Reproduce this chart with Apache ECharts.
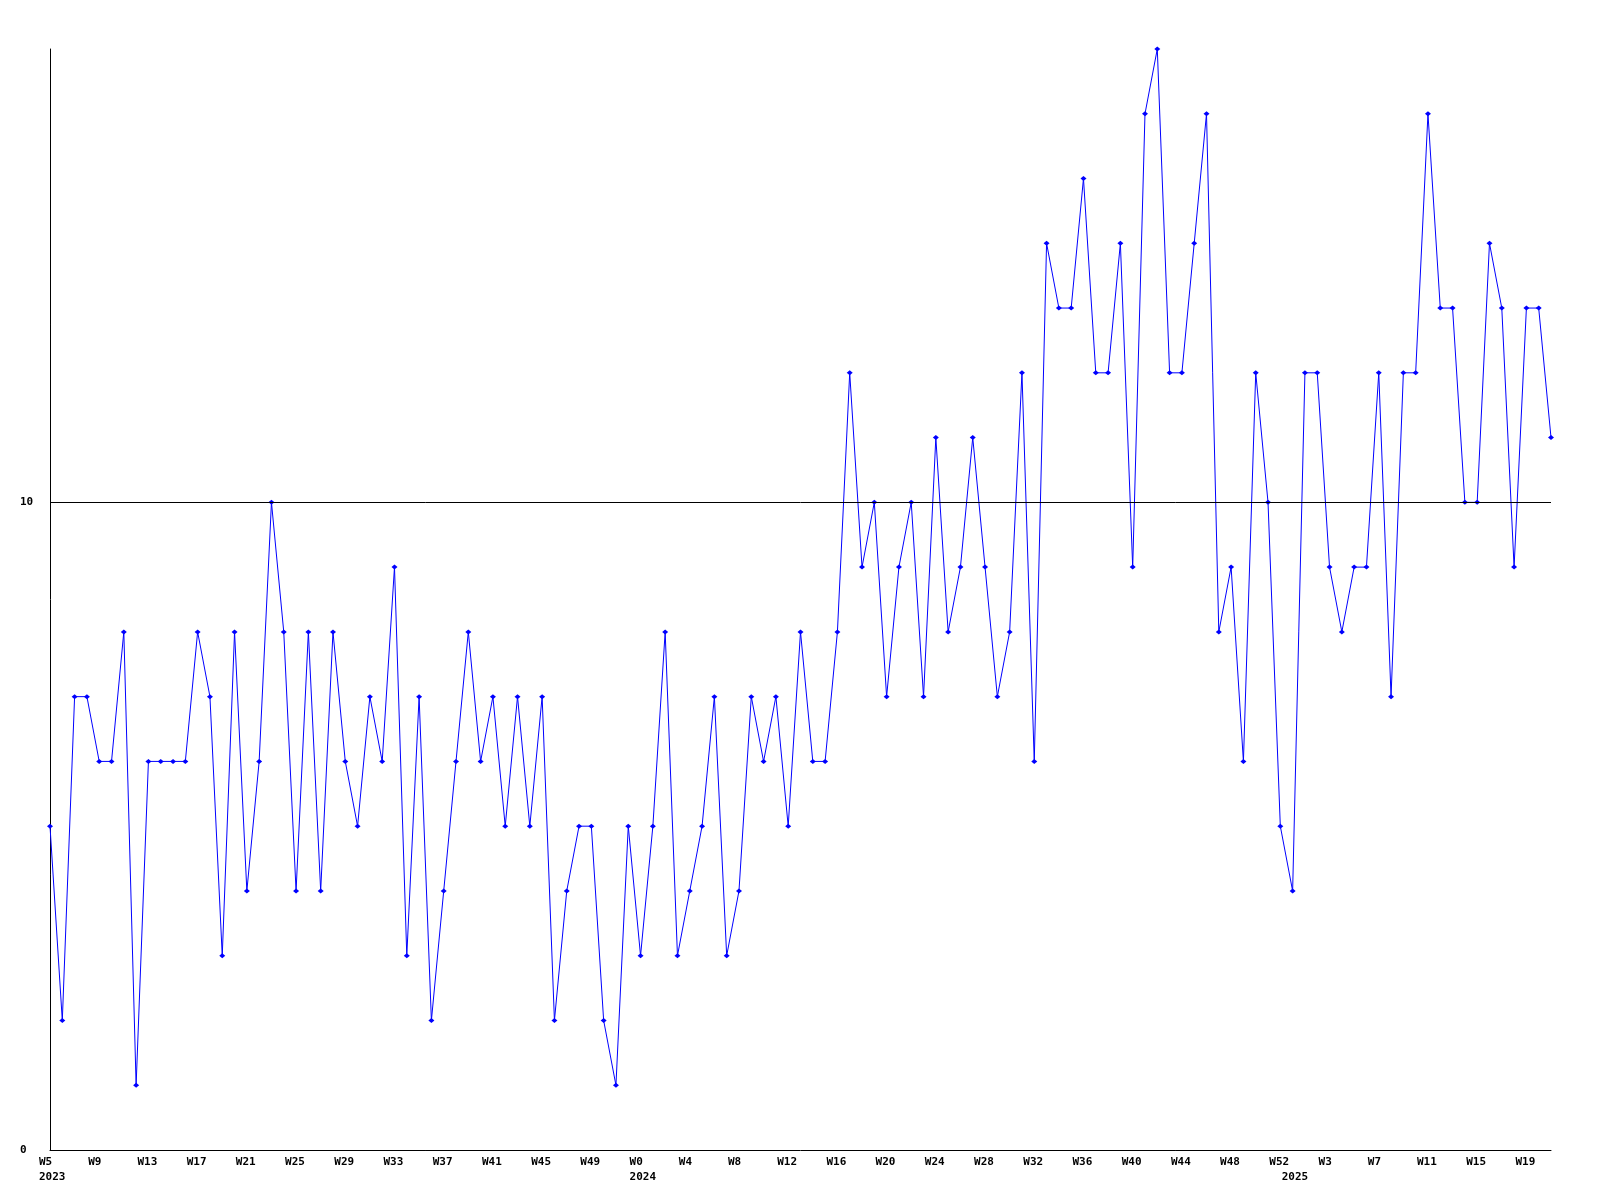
<!DOCTYPE html>
<html>
<head>
<meta charset="utf-8">
<script src="https://cdn.jsdelivr.net/npm/echarts@6/dist/echarts.min.js"></script>
<style>
html,body{margin:0;padding:0;background:#fff;}
#chart{width:1600px;height:1200px;}
</style>
</head>
<body>
<div id="chart"></div>
<script>
// Week labels per year
const weeks2023 = ['W5','W6','W7','W8','W9','W10','W11','W12','W13','W14','W15','W16','W17','W18','W19','W20','W21','W22','W23','W24','W25','W26','W27','W28','W29','W30','W31','W32','W33','W34','W35','W36','W37','W38','W39','W40','W41','W42','W43','W44','W45','W46','W47','W48','W49','W50','W51','W52'];
const weeks2024 = ['W0','W1','W2','W3','W4','W5','W6','W7','W8','W9','W10','W11','W12','W13','W14','W15','W16','W17','W18','W19','W20','W21','W22','W23','W24','W25','W26','W27','W28','W29','W30','W31','W32','W33','W34','W35','W36','W37','W38','W39','W40','W41','W42','W43','W44','W45','W46','W47','W48','W49','W50','W51','W52'];
const weeks2025 = ['W0','W1','W2','W3','W4','W5','W6','W7','W8','W9','W10','W11','W12','W13','W14','W15','W16','W17','W18','W19','W20','W21'];
const years = ['2023','2024','2025'];

// Weekly values
const values = [
  5,2,7,7,6,6,8,1,6,6,6,6,8,7,3,8,4,6,10,8,
  4,8,4,8,6,5,7,6,9,3,7,2,4,6,8,6,7,5,7,5,
  7,2,4,5,5,2,1,5,3,5,8,3,4,5,7,3,4,7,6,7,
  5,8,6,6,8,12,9,10,7,9,10,7,11,8,9,11,9,7,8,12,
  6,14,13,13,15,12,12,14,9,16,17,12,12,14,16,8,9,6,12,10,
  5,4,12,12,9,8,9,9,12,7,12,12,16,13,13,10,10,14,13,9,
  13,13,11
];

const yTickValues = [0, 10];

const categories = weeks2023.concat(weeks2024, weeks2025);
const yearStart = {};
yearStart[0] = years[0];
yearStart[weeks2023.length] = years[1];
yearStart[weeks2023.length + weeks2024.length] = years[2];

const font = '"DejaVu Sans Mono", "Liberation Mono", monospace';

const chart = echarts.init(document.getElementById('chart'), null, {renderer: 'canvas'});
chart.setOption({
  animation: false,
  backgroundColor: '#ffffff',
  grid: {left: 50, right: 49, top: 49, bottom: 50, containLabel: false},
  xAxis: {
    type: 'category',
    data: categories,
    boundaryGap: false,
    axisLine: {show: true, lineStyle: {color: '#000', width: 1}},
    axisTick: {show: false},
    splitLine: {show: false},
    axisLabel: {
      interval: function (index) { return index % 4 === 0 || yearStart[index] !== undefined; },
      formatter: function (value, index) {
        let s = index % 4 === 0 ? value : '';
        if (yearStart[index] !== undefined) s += '\n' + yearStart[index];
        return s;
      },
      align: 'left',
      padding: [0, 0, 0, -11],
      margin: 5,
      lineHeight: 15,
      color: '#000',
      fontFamily: font,
      fontWeight: 'bold',
      fontSize: 11
    }
  },
  yAxis: {
    type: 'value',
    min: 0,
    max: 17,
    interval: 10,
    axisLine: {show: true, lineStyle: {color: '#000', width: 1}},
    axisTick: {show: false},
    splitLine: {show: false},
    axisLabel: {
      formatter: function (v) { return yTickValues.indexOf(v) >= 0 ? String(v) : ''; },
      showMaxLabel: false,
      align: 'left',
      margin: 30,
      color: '#000',
      fontFamily: font,
      fontWeight: 'bold',
      fontSize: 11
    }
  },
  series: [{
    type: 'line',
    data: values,
    showAllSymbol: true,
    symbol: 'diamond',
    symbolSize: [6, 5],
    itemStyle: {color: '#0000ff'},
    lineStyle: {color: '#0000ff', width: 1},
    markLine: {
      silent: true,
      symbol: ['none', 'none'],
      label: {show: false},
      lineStyle: {color: '#000', width: 1, type: 'solid'},
      data: [{yAxis: 10}]
    }
  }]
});
</script>
</body>
</html>
